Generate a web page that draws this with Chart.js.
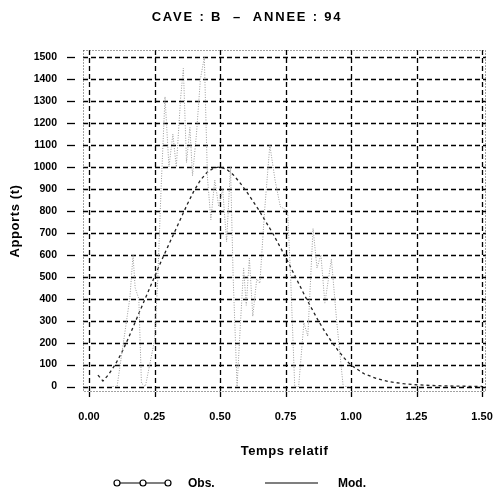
<!DOCTYPE html>
<html>
<head>
<meta charset="utf-8">
<script src="https://cdn.jsdelivr.net/npm/chart.js@4/dist/chart.umd.min.js"></script>
<style>
html,body{margin:0;padding:0;background:#fff;}
canvas{display:block;}
</style>
</head>
<body>
<canvas id="c" width="493" height="492"></canvas>
<script>
const chartTitle = "CAVE : B  \u2013  ANNEE : 94";
const xTitle = "Temps relatif";
const yTitle = "Apports (t)";
const legendLabels = ["Obs.", "Mod."];

const xTicks = [0, 0.25, 0.5, 0.75, 1.0, 1.25, 1.5];
const yTicks = [0,100,200,300,400,500,600,700,800,900,1000,1100,1200,1300,1400,1500];

const obsX = [0.09,0.107,0.156,0.168,0.176,0.19,0.2,0.215,0.23,0.25,0.262,0.275,0.29,0.305,0.32,0.333,0.35,0.36,0.372,0.385,0.395,0.41,0.425,0.44,0.452,0.465,0.48,0.495,0.51,0.525,0.54,0.55,0.565,0.578,0.59,0.6,0.612,0.625,0.64,0.652,0.67,0.69,0.71,0.73,0.758,0.77,0.785,0.8,0.82,0.835,0.855,0.87,0.885,0.9,0.925,0.945,0.97,0.99];
const obsY = [0,0,405,600,450,400,15,0,90,210,480,900,1320,1000,1150,1000,1320,1450,1020,1180,960,1150,1400,1500,950,760,940,820,900,660,1000,500,0,290,540,370,585,320,490,470,800,1100,940,820,800,480,0,0,290,230,720,540,600,380,580,300,0,0];

const modX = [0.034,0.053,0.075,0.1,0.125,0.15,0.175,0.2,0.225,0.25,0.275,0.3,0.325,0.35,0.375,0.4,0.425,0.45,0.475,0.5,0.525,0.55,0.575,0.6,0.625,0.65,0.675,0.7,0.725,0.75,0.775,0.8,0.825,0.85,0.875,0.9,0.925,0.95,0.975,1.0,1.05,1.1,1.15,1.2,1.25,1.3,1.35,1.4,1.45,1.5];
const modY = [52,25,55,100,155,220,290,360,430,500,570,635,700,765,830,890,940,975,995,1000,990,965,930,890,845,800,750,700,645,590,530,470,410,355,300,250,205,165,128,97,58,35,21,13,8,5,3,2,1,0];

const obsPts = obsX.map((x,i)=>({x:x,y:obsY[i]}));
const modPts = modX.map((x,i)=>({x:x,y:modY[i]}));

const FONT = '"Liberation Sans", Arial, sans-serif';

const deco = {
  id: 'deco',
  beforeDatasetsDraw(chart){
    const {ctx, chartArea:a, scales:{x, y}} = chart;
    ctx.save();
    ctx.strokeStyle = '#000';
    ctx.lineWidth = 1.3;
    ctx.setLineDash([5,3]);
    yTicks.forEach(v=>{
      const py = Math.round(y.getPixelForValue(v))+0.5;
      ctx.beginPath(); ctx.moveTo(a.left, py); ctx.lineTo(a.right, py); ctx.stroke();
    });
    xTicks.forEach(v=>{
      const px = Math.round(x.getPixelForValue(v))+0.5;
      ctx.beginPath(); ctx.moveTo(px, a.top); ctx.lineTo(px, a.bottom); ctx.stroke();
    });
    ctx.lineWidth = 1;
    ctx.strokeStyle = '#444';
    ctx.setLineDash([1,2]);
    ctx.strokeRect(a.left+0.5, a.top+0.5, a.right-a.left-1, a.bottom-a.top-1);
    ctx.setLineDash([]);
    ctx.strokeStyle = '#000';
    ctx.lineWidth = 1.3;
    yTicks.forEach(v=>{
      const py = Math.round(y.getPixelForValue(v))+0.5;
      ctx.beginPath(); ctx.moveTo(a.left-16, py); ctx.lineTo(a.left-8, py); ctx.stroke();
    });
    xTicks.forEach(v=>{
      const px = Math.round(x.getPixelForValue(v))+0.5;
      ctx.beginPath(); ctx.moveTo(px, a.bottom); ctx.lineTo(px, a.bottom+5); ctx.stroke();
    });
    ctx.restore();
  },
  afterDraw(chart){
    const {ctx, chartArea:a} = chart;
    ctx.save();
    ctx.fillStyle = '#000';
    ctx.textBaseline = 'middle';
    ctx.font = 'bold 13px ' + FONT;
    ctx.textAlign = 'center';
    try { ctx.letterSpacing = '1.8px'; } catch(e) {}
    ctx.fillText(chartTitle, 247, 17);
    try { ctx.letterSpacing = '0.6px'; } catch(e) {}
    ctx.font = 'bold 13px ' + FONT;
    ctx.fillText(xTitle, (a.left+a.right)/2, 451);
    ctx.save();
    ctx.translate(15, 221);
    ctx.rotate(-Math.PI/2);
    ctx.fillText(yTitle, 0, 0);
    ctx.restore();
    try { ctx.letterSpacing = '0px'; } catch(e) {}
    const ly = 483;
    ctx.strokeStyle = '#000';
    ctx.lineWidth = 1.2;
    ctx.beginPath(); ctx.moveTo(114, ly); ctx.lineTo(171, ly); ctx.stroke();
    [117,143,168].forEach(cx=>{
      ctx.beginPath(); ctx.arc(cx, ly, 3, 0, Math.PI*2);
      ctx.fillStyle = '#fff'; ctx.fill(); ctx.stroke();
    });
    ctx.beginPath(); ctx.moveTo(265, ly); ctx.lineTo(318, ly); ctx.stroke();
    ctx.fillStyle = '#000';
    ctx.font = 'bold 12px ' + FONT;
    ctx.textAlign = 'left';
    ctx.fillText(legendLabels[0], 188, ly+1);
    ctx.fillText(legendLabels[1], 338, ly+1);
    ctx.restore();
  }
};

new Chart(document.getElementById('c'), {
  type: 'scatter',
  data: {
    datasets: [
      { label: legendLabels[0], data: obsPts, showLine: true, borderColor: '#9a9a9a', borderWidth: 1, borderDash: [1,1.5], pointRadius: 0, tension: 0 },
      { label: legendLabels[1], data: modPts, showLine: true, borderColor: '#222', borderWidth: 1.3, borderDash: [3,3], pointRadius: 0, tension: 0 }
    ]
  },
  options: {
    responsive: false,
    animation: false,
    devicePixelRatio: 1,
    layout: { padding: { left: 0, right: 7, top: 50, bottom: 0 } },
    plugins: { legend: { display: false }, title: { display: false }, tooltip: { enabled: false } },
    scales: {
      x: {
        type: 'linear', min: -0.023, max: 1.515,
        grid: { display: false }, border: { display: false },
        afterBuildTicks: s => { s.ticks = xTicks.map(v=>({value:v})); },
        afterFit: s => { s.height = 100; s.paddingLeft = 0; s.paddingRight = 0; },
        ticks: { padding: 10, color: '#000', font: { family: FONT, size: 11, weight: 'bold' }, callback: v => Number(v).toFixed(2), maxRotation: 0, autoSkip: false }
      },
      y: {
        type: 'linear', min: -25, max: 1533,
        grid: { display: false }, border: { display: false },
        afterBuildTicks: s => { s.ticks = yTicks.map(v=>({value:v})); },
        afterFit: s => { s.width = 83; s.paddingTop = 0; s.paddingBottom = 0; },
        ticks: { padding: 18, color: '#000', font: { family: FONT, size: 10.5, weight: 'bold' }, callback: v => String(v), autoSkip: false }
      }
    }
  },
  plugins: [deco]
});
</script>
</body>
</html>
